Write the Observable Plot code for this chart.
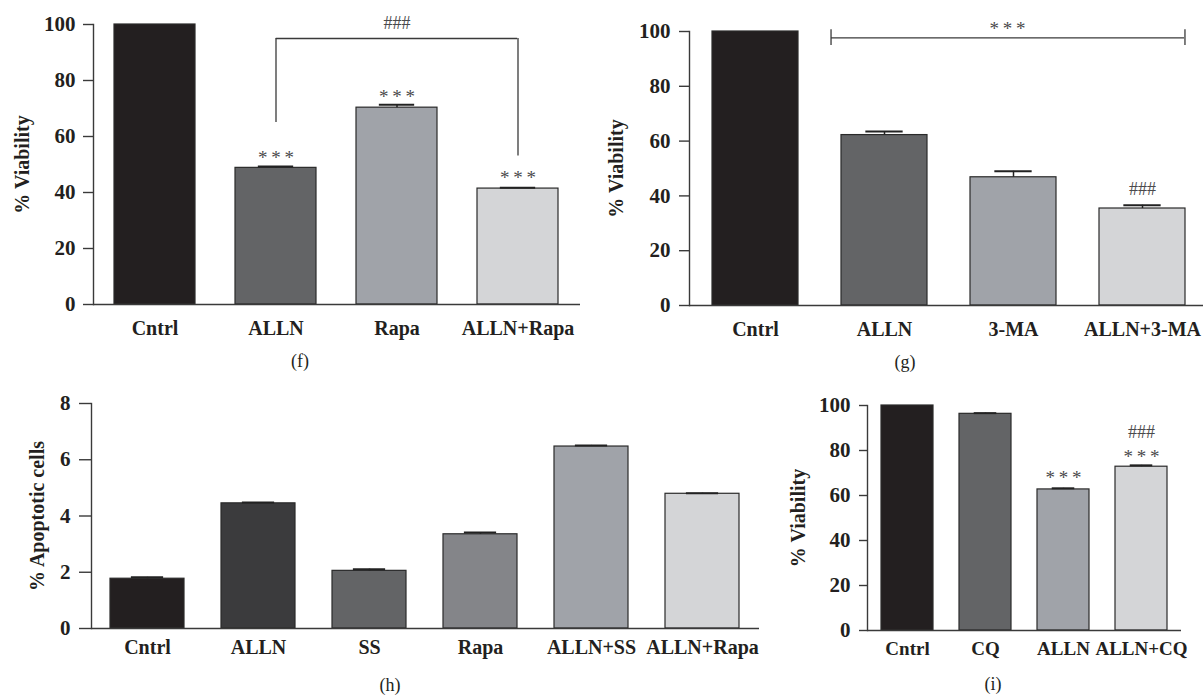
<!DOCTYPE html>
<html><head><meta charset="utf-8">
<script src="https://cdn.jsdelivr.net/npm/d3@7"></script>
<script src="https://cdn.jsdelivr.net/npm/@observablehq/plot@0.6"></script>
<style>
html,body{margin:0;padding:0;background:#fff;overflow:hidden;width:1203px;height:696px;}
#root{position:relative;width:1203px;height:696px;overflow:hidden;background:#fff;}
.panel{position:absolute;}
.cap{position:absolute;font-family:"Liberation Serif",serif;font-size:18px;color:#231f20;transform:translate(-50%,-50%);white-space:nowrap;}
</style></head><body><div id="root"></div>
<script>
// ---------- data ----------
// (f)
const fCategories = ["Cntrl", "ALLN", "Rapa", "ALLN+Rapa"];
const fValues = [100, 48.8, 70.3, 41.4];
const fErrors = [0, 0.5, 1.0, 0.3];
const fColors = ["#231f20", "#636466", "#a0a3a9", "#d4d5d7"];
const fStars = [{x: "ALLN", y: 53.6}, {x: "Rapa", y: 75.5}, {x: "ALLN+Rapa", y: 46.4}];
const fHash = [{x: "Rapa", y: 100.5}];
const fBracketLevel = 95;
const fBracketLegs = [{x: "ALLN", y1: 65, y2: 95}, {x: "ALLN+Rapa", y1: 53, y2: 95}];
// (g)
const gCategories = ["Cntrl", "ALLN", "3-MA", "ALLN+3-MA"];
const gValues = [100, 62.2, 46.8, 35.4];
const gErrors = [0, 1.3, 2.2, 1.2];
const gColors = ["#231f20", "#636466", "#a0a3a9", "#d4d5d7"];
const gStars = [{x: "3-MA", y: 102.2}];
const gHash = [{x: "ALLN+3-MA", y: 42.4}];
const gBracket = {from: "ALLN", to: "ALLN+3-MA", y: 97.7, capLow: 94.9, capHigh: 100.6};
// (h)
const hCategories = ["Cntrl", "ALLN", "SS", "Rapa", "ALLN+SS", "ALLN+Rapa"];
const hValues = [1.77, 4.45, 2.05, 3.35, 6.47, 4.79];
const hErrors = [0.05, 0.03, 0.06, 0.06, 0.04, 0.02];
const hColors = ["#231f20", "#3b3b3d", "#636466", "#848589", "#a0a3a9", "#d4d5d7"];
// (i)
const iCategories = ["Cntrl", "CQ", "ALLN", "ALLN+CQ"];
const iValues = [100, 96.3, 62.7, 72.8];
const iErrors = [0, 0.3, 0.5, 0.6];
const iColors = ["#231f20", "#636466", "#a0a3a9", "#d4d5d7"];
const iStars = [{x: "ALLN", y: 69.4}, {x: "ALLN+CQ", y: 78.7}];
const iHash = [{x: "ALLN+CQ", y: 88.2}];

const viabilityTicks = [0, 20, 40, 60, 80, 100];
const apoptosisTicks = [0, 2, 4, 6, 8];

// ---------- helpers ----------
const INK = "#231f20";
const AX = "#3a3a3a";
const NOTE = "#4a4a4c";
const PI = 0.33, PO = 0.165;
const root = document.getElementById("root");

function panel(o) {
  const n = o.cats.length;
  const step = (o.width - o.ml - o.mr) / (n - PI + 2 * PO);
  const bw = step * (1 - PI);
  const data = o.cats.map((c, i) => ({c, v: o.vals[i], e: o.errs[i], color: o.colors[i]}));
  const withErr = data.filter(d => d.e > 0);
  const marks = [
    Plot.barY(data, {x: "c", y: "v", fill: "color", stroke: "#2a2a2a", strokeWidth: 1.2}),
    Plot.ruleX(withErr, {x: "c", y1: "v", y2: d => d.v + d.e, stroke: "#222", strokeWidth: 1.5}),
    Plot.tickY(withErr, {x: "c", y: d => d.v + d.e, stroke: "#222", strokeWidth: 2, insetLeft: bw * 0.28, insetRight: bw * 0.28}),
    Plot.ruleY([0], {stroke: AX, strokeWidth: 1.4}),
    Plot.frame({anchor: "left", stroke: AX, strokeWidth: 1.4}),
    Plot.axisY({ticks: o.yTicks, tickSize: o.tickSize, tickPadding: o.tickPad, label: null, stroke: AX, strokeWidth: 1.4, fill: INK, fontSize: 21}),
    Plot.axisX({tickSize: 0, tickPadding: o.xPad, label: null, fill: INK, fontSize: o.xFont || 20}),
    Plot.text([o.ylabel], {text: d => d, frameAnchor: "left", textAnchor: "middle", lineAnchor: "middle", rotate: -90, dx: o.ylabelDx, fill: INK, fontSize: 20, fontWeight: "bold"})
  ];
  if (o.extra) marks.push(...o.extra(bw));
  const chart = Plot.plot({
    width: o.width, height: o.height,
    marginLeft: o.ml, marginRight: o.mr, marginTop: o.mt, marginBottom: o.mb,
    x: {domain: o.cats, paddingInner: PI, paddingOuter: PO, align: 0.5},
    y: {domain: o.yDomain},
    color: {type: "identity"},
    style: {fontFamily: "'Liberation Serif', serif", fontSize: "20px", fontWeight: "bold", color: INK, background: "transparent", overflow: "visible"},
    marks
  });
  chart.classList.add("panel");
  chart.style.left = o.left + "px";
  chart.style.top = o.top + "px";
  root.appendChild(chart);
}

function stars(arr, dx = 0) {
  return Plot.text(arr, {x: "x", y: "y", text: () => "*\u2009*\u2009*", fill: NOTE, fontSize: 19, fontWeight: "normal", dy: 3.5, dx});
}
function hashes(arr) {
  return Plot.text(arr, {x: "x", y: "y", text: () => "###", fill: NOTE, fontSize: 18, fontWeight: "normal"});
}
function caption(t, x, y) {
  const d = document.createElement("div");
  d.className = "cap"; d.textContent = t;
  d.style.left = x + "px"; d.style.top = y + "px";
  root.appendChild(d);
}

// ---------- panels ----------
panel({
  cats: fCategories, vals: fValues, errs: fErrors, colors: fColors,
  left: 0, top: 0, width: 600, height: 370, ml: 93, mr: 20, mt: 24, mb: 66,
  yDomain: [0, 100], yTicks: viabilityTicks, tickSize: 10, tickPad: 8, xPad: 16,
  ylabel: "% Viability", ylabelDx: -71,
  extra: (bw) => [
    Plot.ruleY([{a: "ALLN", b: "ALLN+Rapa", y: fBracketLevel}], {x1: "a", x2: "b", y: "y", insetLeft: bw / 2, insetRight: bw / 2, stroke: AX, strokeWidth: 1.3}),
    Plot.ruleX(fBracketLegs, {x: "x", y1: "y1", y2: "y2", stroke: AX, strokeWidth: 1.3}),
    stars(fStars), hashes(fHash)
  ]
});
panel({
  cats: gCategories, vals: gValues, errs: gErrors, colors: gColors,
  left: 600, top: 0, width: 620, height: 370, ml: 89, mr: 12, mt: 31, mb: 65,
  yDomain: [0, 100], yTicks: viabilityTicks, tickSize: 10, tickPad: 9, xPad: 16,
  ylabel: "% Viability", ylabelDx: -73,
  extra: (bw) => [
    Plot.ruleY([gBracket], {x1: "from", x2: "to", y: "y", insetLeft: -10, insetRight: 1, stroke: AX, strokeWidth: 1.3}),
    Plot.ruleX([gBracket], {x: "from", y1: "capLow", y2: "capHigh", dx: -(bw / 2 + 10), stroke: AX, strokeWidth: 1.3}),
    Plot.ruleX([gBracket], {x: "to", y1: "capLow", y2: "capHigh", dx: bw / 2 - 1, stroke: AX, strokeWidth: 1.3}),
    stars(gStars, -6), hashes(gHash)
  ]
});
panel({
  cats: hCategories, vals: hValues, errs: hErrors, colors: hColors,
  left: 0, top: 370, width: 780, height: 326, ml: 91, mr: 21, mt: 33, mb: 68,
  yDomain: [0, 8], yTicks: apoptosisTicks, tickSize: 12, tickPad: 9, xPad: 11,
  ylabel: "% Apoptotic cells", ylabelDx: -54
});
panel({
  cats: iCategories, vals: iValues, errs: iErrors, colors: iColors,
  left: 780, top: 370, width: 423, height: 326, ml: 87, mr: 22, mt: 35, mb: 66,
  yDomain: [0, 100], yTicks: viabilityTicks, tickSize: 8, tickPad: 9, xPad: 11, xFont: 19,
  ylabel: "% Viability", ylabelDx: -69,
  extra: () => [stars(iStars), hashes(iHash)]
});

caption("(f)", 300, 361);
caption("(g)", 905, 362);
caption("(h)", 390, 685);
caption("(i)", 993, 684);
</script>
</body></html>
